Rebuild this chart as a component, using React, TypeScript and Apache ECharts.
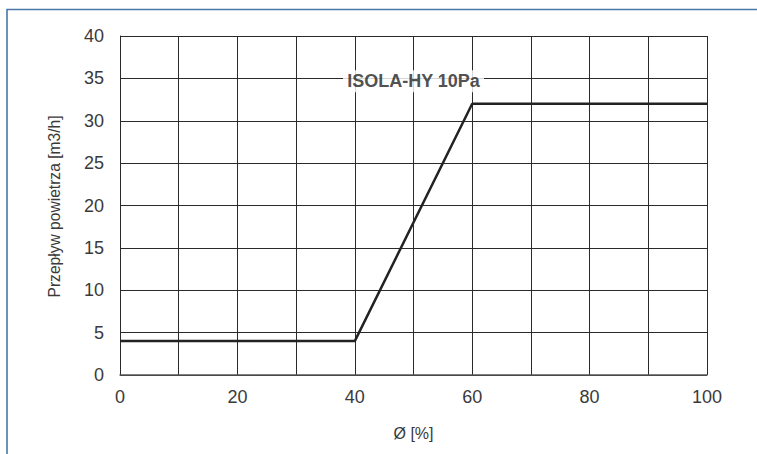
import React, { useEffect, useRef } from "react";
import * as echarts from "echarts";

const linePoints: [number, number][] = [
  [0, 4],
  [40, 4],
  [60, 32],
  [100, 32],
];
const seriesName = "ISOLA-HY 10Pa";
const labelPoint: [number, number] = [50, 34.65];
const xTitle = "Ø [%]";
const yTitle = "Przepływ powietrza [m3/h]";

export default function App() {
  const ref = useRef<HTMLDivElement>(null);
  useEffect(() => {
    document.body.style.margin = "0";
    const chart = echarts.init(ref.current!, undefined, { renderer: "svg" });
    const font = "'Liberation Sans', Arial, Helvetica, sans-serif";
    chart.setOption({
      animation: false,
      backgroundColor: "#ffffff",
      textStyle: { fontFamily: font },
      graphic: [
        {
          type: "rect",
          shape: { x: 7, y: 9.5, width: 900, height: 600 },
          style: { fill: "none", stroke: "#4a78a8", lineWidth: 1.6 },
          silent: true,
        },
        {
          type: "text",
          x: 54.5,
          y: 206.5,
          rotation: Math.PI / 2,
          style: {
            text: yTitle,
            fontSize: 15.6,
            fill: "#3a3a3a",
            fontFamily: font,
            align: "center",
            verticalAlign: "middle",
          },
          silent: true,
        },
        {
          type: "text",
          x: 413.5,
          y: 433.5,
          style: {
            text: xTitle,
            fontSize: 16,
            fill: "#3a3a3a",
            fontFamily: font,
            align: "center",
            verticalAlign: "middle",
          },
          silent: true,
        },
      ],
      grid: { left: 120, right: 50, top: 36, bottom: 79 },
      xAxis: {
        type: "value",
        min: 0,
        max: 100,
        interval: 10,
        axisLine: { show: true, lineStyle: { color: "#555", width: 1.5 } },
        axisTick: { show: false },
        axisLabel: {
          interval: 1,
          fontSize: 18,
          color: "#3a3a3a",
          margin: 13,
          fontFamily: font,
          formatter: (v: number) => (v % 20 === 0 ? String(v) : ""),
        },
        splitLine: { show: true, lineStyle: { color: "#2a2a2a", width: 1 } },
      },
      yAxis: {
        type: "value",
        min: 0,
        max: 40,
        interval: 5,
        axisLine: { show: true, lineStyle: { color: "#2a2a2a", width: 1 } },
        axisTick: { show: false },
        axisLabel: { fontSize: 18, color: "#3a3a3a", margin: 16, fontFamily: font },
        splitLine: { show: true, lineStyle: { color: "#2a2a2a", width: 1 } },
      },
      series: [
        {
          type: "line",
          name: seriesName,
          data: linePoints,
          showSymbol: false,
          symbol: "none",
          lineStyle: { color: "#222", width: 2.5 },
          z: 3,
        },
        {
          type: "scatter",
          data: [labelPoint],
          symbolSize: 0,
          silent: true,
          z: 4,
          label: {
            show: true,
            position: "inside",
            formatter: seriesName,
            fontSize: 18,
            fontWeight: "bold",
            color: "#222",
            fontFamily: font,
            backgroundColor: "#ffffff",
            padding: [2, 4],
          },
        },
      ],
    });
    return () => chart.dispose();
  }, []);
  return <div ref={ref} style={{ width: 757, height: 454 }} />;
}
